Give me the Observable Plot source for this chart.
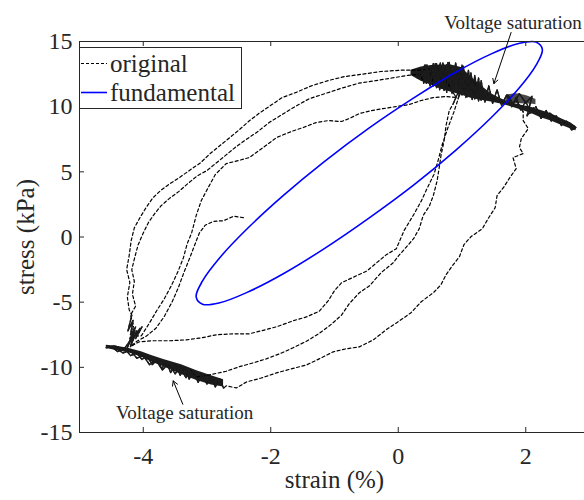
<!DOCTYPE html>
<html><head><meta charset="utf-8">
<script src="https://cdn.jsdelivr.net/npm/d3@7"></script>
<script src="https://cdn.jsdelivr.net/npm/@observablehq/plot@0.6"></script>
<style>
html,body{margin:0;padding:0;background:#fff;overflow:hidden;width:584px;height:500px}
#chart svg{max-width:none !important;height:500px !important}
</style></head><body><div id="chart"></div>
<script>
// ---- axes / labels ----
const xDomain = [-5, 3];
const yDomain = [-15, 15];
const xTicks = [-4, -2, 0, 2];
const yTicks = [-15, -10, -5, 0, 5, 10, 15];
const xLabel = "strain (%)";
const yLabel = "stress (kPa)";
const legendLabels = ["original", "fundamental"];

// ---- fundamental (blue ellipse) ----
const ellipseStrain = [2.26, 2.16, 1.89, 1.46, 0.90, 0.25, -0.46, -1.16, -1.81, -2.37, -2.80, -3.07, -3.17, -3.07, -2.80, -2.37, -1.81, -1.16, -0.46, 0.25, 0.90, 1.46, 1.89, 2.16];
const ellipseStress = [14.39, 13.17, 11.39, 9.17, 6.65, 4.02, 1.45, -0.89, -2.84, -4.25, -5.05, -5.16, -4.59, -3.37, -1.59, 0.63, 3.15, 5.78, 8.35, 10.69, 12.64, 14.05, 14.85, 14.96];

// ---- original (dashed trace), [strain, stress], in time order ----
const segStart = [[-2.43,1.48],[-2.58,1.6],[-2.74,1.25],[-2.9,1.2],[-3.03,0.9],[-3.12,0.3],[-3.2,-0.7],[-3.27,-1.6],[-3.36,-2.7],[-3.45,-3.9],[-3.55,-5.0],[-3.67,-6.1],[-3.8,-7.0],[-3.95,-7.6],[-4.1,-8.0]];
const segLeft1 = [[-4.2,-8.4],[-4.14,-7.3],[-4.22,-8.1],[-4.12,-6.9],[-4.2,-7.5],[-4.16,-6.4],[-4.24,-7.2],[-4.18,-6.0]];
const segLoad1 = [[-4.22,-5.6],[-4.25,-4.6],[-4.21,-3.5],[-4.26,-2.5],[-4.22,-1.4],[-4.19,-0.3],[-4.14,0.7],[-4.05,1.5],[-3.95,2.3],[-3.85,3.0],[-3.72,3.6],[-3.58,4.1],[-3.42,4.6],[-3.25,5.2],[-3.1,5.7],[-2.95,6.4],[-2.8,7.0],[-2.65,7.6],[-2.5,8.2],[-2.34,8.9],[-2.18,9.5],[-2.0,10.1],[-1.82,10.7],[-1.6,11.1],[-1.36,11.6],[-1.1,12.0],[-0.85,12.3],[-0.55,12.5],[-0.27,12.7],[0.05,12.8],[0.3,12.8],[0.5,12.9]];
const segSat1 = [[0.55,11.6],[0.6,13.3],[0.65,11.3],[0.7,13.35],[0.76,11.1],[0.8,13.4],[0.86,11.0],[0.9,13.35],[0.96,10.85],[1.0,13.2],[1.06,10.7],[1.1,12.8],[1.16,10.55],[1.2,12.4],[1.26,10.45],[1.3,12.0],[1.36,10.35],[1.42,11.6],[1.48,10.25],[1.55,11.3],[1.62,10.1],[1.7,10.9],[1.78,10.0],[1.85,10.7],[1.92,9.75],[2.0,10.4],[2.08,9.5],[2.16,10.0],[2.24,9.1],[2.32,9.7],[2.4,8.9],[2.48,9.3],[2.56,8.55],[2.64,8.9],[2.72,8.2],[2.79,8.4],[2.66,8.8],[2.5,8.9],[2.38,9.5],[2.25,9.2],[2.12,9.9],[2.02,9.3],[2.1,10.8],[2.0,10.3],[1.9,11.0],[1.8,10.2],[1.72,10.9],[1.75,10.1],[1.85,10.5],[1.96,9.6]];
const segUnload1 = [[1.96,8.93],[2.04,8.32],[1.93,7.55],[1.90,6.86],[1.96,6.4],[1.80,6.09],[1.85,5.25],[1.74,4.48],[1.66,3.86],[1.55,3.17],[1.52,2.25],[1.41,1.41],[1.32,0.64],[1.14,0.02],[1.03,-0.59],[0.96,-1.51],[0.85,-2.2],[0.75,-2.9],[0.67,-3.66],[0.55,-4.28],[0.36,-4.97],[0.2,-5.81],[0.02,-6.43],[-0.19,-7.12],[-0.39,-7.89],[-0.61,-8.43],[-0.82,-8.58],[-1.02,-8.81],[-1.24,-9.35],[-1.44,-9.82],[-1.68,-10.12],[-1.91,-10.43],[-2.15,-10.82],[-2.38,-11.12],[-2.54,-11.58],[-2.70,-11.42]];
const segBand1 = [[-2.74,-11.6],[-2.8,-10.9],[-2.87,-11.5],[-2.94,-10.7],[-3.0,-11.3],[-3.07,-10.5],[-3.14,-11.15],[-3.21,-10.3],[-3.28,-10.9],[-3.35,-10.0],[-3.42,-10.6],[-3.5,-9.8],[-3.57,-10.4],[-3.64,-9.6],[-3.71,-10.1],[-3.78,-9.4],[-3.86,-9.8],[-3.94,-9.1],[-4.02,-9.4],[-4.1,-8.9],[-4.2,-9.1],[-4.3,-8.5],[-4.4,-8.8],[-4.5,-8.4],[-4.58,-8.5],[-4.45,-8.35],[-4.3,-8.6],[-4.2,-7.9],[-4.25,-8.5],[-4.13,-7.2],[-4.21,-7.8]];
const segLoad2 = [[-4.15,-6.8],[-4.2,-6.0],[-4.12,-5.3],[-4.17,-4.4],[-4.14,-3.4],[-4.18,-2.5],[-4.13,-1.5],[-4.08,-0.6],[-4.0,0.3],[-3.92,1.1],[-3.82,1.8],[-3.72,2.4],[-3.58,3.0],[-3.44,3.5],[-3.3,4.1],[-3.15,4.7],[-3.0,5.1],[-2.85,5.7],[-2.7,6.3],[-2.55,6.9],[-2.38,7.5],[-2.2,8.1],[-2.02,8.8],[-1.82,9.4],[-1.62,10.0],[-1.4,10.6],[-1.15,11.0],[-0.9,11.4],[-0.62,11.8],[-0.35,12.0],[-0.1,12.2],[0.15,12.4],[0.35,12.5]];
const segSat2 = [[0.4,11.8],[0.45,13.2],[0.5,11.6],[0.55,13.3],[0.6,11.45],[0.66,13.35],[0.72,11.25],[0.78,13.4],[0.84,11.05],[0.9,13.3],[0.96,10.9],[1.02,13.1],[1.08,10.75],[1.14,12.6],[1.2,10.6],[1.26,12.2],[1.3,10.5],[1.18,11.6],[1.08,11.0],[0.98,11.4],[0.94,10.6]];
const segUnload2 = [[0.87,9.55],[0.78,8.4],[0.69,7.1],[0.63,5.95],[0.56,4.8],[0.44,3.6],[0.36,2.75],[0.24,1.7],[0.09,0.48],[-0.03,-0.9],[-0.19,-1.37],[-0.34,-1.98],[-0.49,-2.6],[-0.71,-3.1],[-0.89,-3.51],[-1.0,-4.12],[-1.1,-4.9],[-1.24,-5.7],[-1.44,-6.13],[-1.65,-6.43],[-1.91,-6.89],[-2.15,-7.2],[-2.34,-7.43],[-2.6,-7.43],[-2.85,-7.5],[-3.09,-7.74],[-3.32,-7.89],[-3.59,-7.96],[-3.87,-7.96],[-4.06,-8.04]];
const segLeft2 = [[-4.2,-8.4],[-4.1,-7.2],[-4.18,-8.0],[-4.05,-7.0],[-4.12,-7.8],[-4.02,-6.9],[-4.1,-7.6]];
const segLoad3 = [[-4.03,-7.58],[-3.90,-6.58],[-3.79,-5.66],[-3.67,-4.74],[-3.56,-3.74],[-3.45,-2.59],[-3.37,-1.59],[-3.31,-0.51],[-3.24,0.33],[-3.17,1.64],[-3.09,2.79],[-2.99,3.71],[-2.87,4.79],[-2.70,5.63],[-2.51,5.86],[-2.34,6.09],[-2.12,6.86],[-1.91,7.63],[-1.68,8.09],[-1.49,8.40],[-1.29,8.78],[-1.10,8.93],[-0.89,8.86],[-0.77,9.09],[-0.61,9.47],[-0.42,9.70],[-0.24,9.85],[-0.03,10.01],[0.17,10.16],[0.36,10.47],[0.55,10.70],[0.75,10.78],[0.91,10.70]];
const segSat3 = [[0.72,12.2],[0.62,11.5],[0.52,13.1],[0.44,11.8],[0.38,12.9],[0.3,12.2],[0.42,13.2],[0.5,11.7],[0.58,13.3],[0.68,11.4],[0.76,13.2],[0.84,11.1],[0.92,12.9],[1.0,10.9],[1.04,12.4],[0.95,11.2],[0.86,10.2]];
const segUnload3 = [[0.80,9.70],[0.75,8.55],[0.72,7.40],[0.67,6.24],[0.64,5.24],[0.61,4.32],[0.55,3.17],[0.49,2.40],[0.39,1.64],[0.33,0.64],[0.24,-0.13],[0.13,-0.75],[0.02,-1.36],[-0.08,-1.98],[-0.27,-2.74],[-0.45,-3.74],[-0.61,-4.28],[-0.77,-5.12],[-0.89,-6.0],[-1.05,-6.7],[-1.24,-7.4],[-1.44,-8.0],[-1.65,-8.5],[-1.83,-8.9],[-2.07,-9.35],[-2.27,-9.65],[-2.49,-9.95],[-2.70,-10.3],[-2.93,-10.55],[-3.17,-10.73]];
const segBand3 = [[-3.25,-10.2],[-3.33,-10.8],[-3.42,-10.0],[-3.5,-10.5],[-3.6,-9.7],[-3.7,-10.2],[-3.8,-9.45],[-3.9,-9.8],[-4.0,-9.1],[-4.1,-9.3],[-4.2,-8.7],[-4.32,-8.9],[-4.45,-8.45]];
const segments = [segStart, segLeft1, segLoad1, segSat1, segUnload1, segBand1, segLoad2, segSat2, segUnload2, segLeft2, segLoad3, segSat3, segUnload3, segBand3];
const saturated = [false, true, false, true, false, true, false, true, false, true, false, true, false, true];

// ---- envelopes of the dense saturation bursts ----
const satTopStrain = [0.20, 0.36, 0.52, 0.67, 0.83, 0.99, 1.14, 1.30, 1.46, 1.61, 1.77, 1.93, 2.08, 2.24, 2.40, 2.55, 2.71, 2.79];
const satTopHigh = [12.8, 13.05, 13.15, 13.2, 13.2, 13.0, 12.3, 11.6, 11.0, 10.6, 10.3, 10.1, 9.95, 9.7, 9.45, 9.1, 8.75, 8.45];
const satTopLow = [12.4, 11.95, 11.65, 11.35, 11.1, 10.9, 10.65, 10.5, 10.35, 10.2, 10.0, 9.75, 9.5, 9.15, 8.9, 8.6, 8.28, 8.15];
const satSideStrain = [1.69, 1.85, 2.0, 2.16];
const satSideHigh = [10.85, 11.0, 10.85, 10.55];
const satSideLow = [10.35, 10.25, 10.2, 10.15];
const satBotStrain = [-4.58, -4.42, -4.22, -4.03, -3.87, -3.68, -3.40, -3.17, -2.93, -2.74];
const satBotHigh = [-8.3, -8.38, -8.55, -8.8, -9.1, -9.4, -9.8, -10.25, -10.65, -10.95];
const satBotLow = [-8.55, -8.7, -8.9, -9.2, -9.6, -9.95, -10.55, -11.0, -11.35, -11.5];

// ---- annotations ----
const noteText = ["Voltage saturation", "Voltage saturation"];
const noteStrain = [1.80, -3.35];
const noteStress = [16.46, -13.5];
const arrowFromStrain = [1.77, -3.38];
const arrowFromStress = [15.69, -12.83];
const arrowToStrain = [1.50, -3.53];
const arrowToStress = [11.77, -11.04];

// ---- build ----
const W = 600, H = 500, mL = 79, mR = 11, mT = 41, mB = 68, tick = 5;
const fw = W - mL - mR, fh = H - mT - mB;
const ink = "#262626";
const serif = "'Liberation Serif','Times New Roman',serif";

const original = segments.flatMap((s, k) => s.map(([strain, stress]) => ({strain, stress, k, sat: saturated[k]})));
const satOnly = original.filter(d => d.sat);
const band = (xs, lo, hi) => xs.map((strain, i) => ({strain, lo: lo[i], hi: hi[i]}));
const satTop = band(satTopStrain, satTopLow, satTopHigh);
const satSide = band(satSideStrain, satSideLow, satSideHigh);
const satBot = band(satBotStrain, satBotLow, satBotHigh);
const fundamental = ellipseStrain.map((strain, i) => ({strain, stress: ellipseStress[i]}));
const notes = noteText.map((t, i) => ({t, strain: noteStrain[i], stress: noteStress[i]}));
const arrows = arrowFromStrain.map((_, i) => ({x1: arrowFromStrain[i], y1: arrowFromStress[i], x2: arrowToStrain[i], y2: arrowToStress[i]}));

const plot = Plot.plot({
  width: W, height: H, marginLeft: mL, marginRight: mR, marginTop: mT, marginBottom: mB,
  style: {fontFamily: serif, fontSize: "24px", color: ink, background: "#fff", overflow: "visible", maxWidth: "none"},
  x: {domain: xDomain},
  y: {domain: yDomain},
  marks: [
    Plot.areaY(satTop, {x: "strain", y1: "lo", y2: "hi", fill: "#1c1c1c"}),
    Plot.areaY(satSide, {x: "strain", y1: "lo", y2: "hi", fill: "#2a2a2a", fillOpacity: 0.85, curve: "catmull-rom"}),
    Plot.areaY(satBot, {x: "strain", y1: "lo", y2: "hi", fill: "#1c1c1c"}),
    Plot.line(original, {x: "strain", y: "stress", stroke: "#000", strokeWidth: 1.2, strokeDasharray: "3,2.5"}),
    Plot.line(satOnly, {x: "strain", y: "stress", z: "k", stroke: "#1c1c1c", strokeWidth: 1.4}),
    Plot.line(fundamental, {x: "strain", y: "stress", stroke: "#0000ff", strokeWidth: 1.6, curve: "catmull-rom-closed"}),
    Plot.frame({stroke: ink, strokeWidth: 1}),
    Plot.tickX(xTicks, {stroke: ink, insetTop: fh - tick}),
    Plot.tickX(xTicks, {stroke: ink, insetBottom: fh - tick}),
    Plot.tickY(yTicks, {stroke: ink, insetRight: fw - tick}),
    Plot.tickY(yTicks, {stroke: ink, insetLeft: fw - tick}),
    Plot.axisX({ticks: xTicks, tickSize: 0, tickPadding: 14, tickFormat: d => String(d), label: null, fontSize: 24, fontFamily: serif, fill: ink}),
    Plot.axisY({ticks: yTicks, tickSize: 0, tickPadding: 7, tickFormat: d => String(d), label: null, fontSize: 24, fontFamily: serif, fill: ink}),
    Plot.text([xLabel], {frameAnchor: "bottom", textAnchor: "middle", lineAnchor: "middle", dy: 47, text: d => d, fontSize: 25, fontFamily: serif, fill: ink}),
    Plot.text([yLabel], {frameAnchor: "left", textAnchor: "middle", lineAnchor: "middle", rotate: -90, dx: -54, text: d => d, fontSize: 25, fontFamily: serif, fill: ink}),
    Plot.arrow(arrows, {x1: "x1", y1: "y1", x2: "x2", y2: "y2", stroke: "#000", strokeWidth: 1, headLength: 8}),
    Plot.text(notes, {x: "strain", y: "stress", text: "t", fontSize: 19, fontFamily: serif, fill: ink})
  ]
});

// legend box (inside the axes, top-left)
const svg = d3.select(plot);
const lg = svg.append("g").attr("font-family", serif).attr("font-size", 25).attr("fill", ink).attr("text-anchor", "start");
lg.append("rect").attr("x", mL + 0.5).attr("y", 47.5).attr("width", 162).attr("height", 61)
  .attr("fill", "#fff").attr("stroke", ink).attr("stroke-width", 1);
const rowsY = [63.5, 92.5];
lg.append("line").attr("x1", 81).attr("x2", 107).attr("y1", rowsY[0]).attr("y2", rowsY[0])
  .attr("stroke", "#000").attr("stroke-dasharray", "3,2");
lg.append("line").attr("x1", 81).attr("x2", 107).attr("y1", rowsY[1]).attr("y2", rowsY[1])
  .attr("stroke", "#0000ff").attr("stroke-width", 1.6);
legendLabels.forEach((t, i) => {
  lg.append("text").attr("x", 110).attr("y", rowsY[i] + 8.7).attr("text-anchor", "start").text(t);
});

document.getElementById("chart").appendChild(plot);
</script></body></html>
